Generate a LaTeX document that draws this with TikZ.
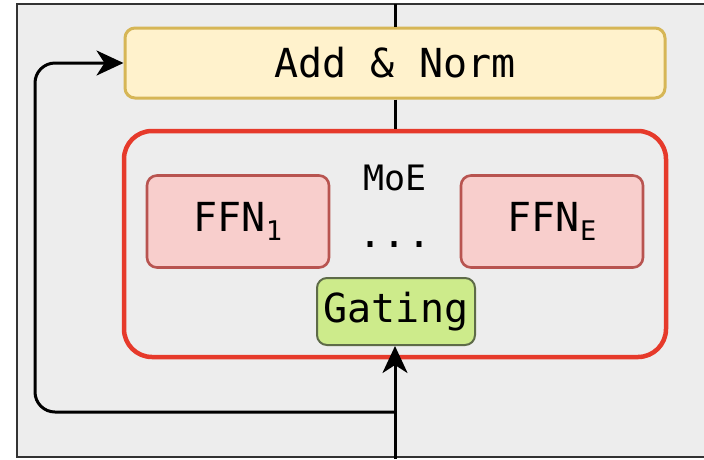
\documentclass[tikz,border=0pt]{standalone}
\usepackage{fontspec}
\setmonofont{DejaVu Sans Mono}
\usetikzlibrary{arrows.meta}
\definecolor{panelgray}{HTML}{EDEDED}
\definecolor{normfill}{HTML}{FFF2CC}
\definecolor{normline}{HTML}{D6B656}
\definecolor{ffnfill}{HTML}{F8CECC}
\definecolor{ffnline}{HTML}{B85450}
\definecolor{gatefill}{HTML}{CDEB8B}
\definecolor{gateline}{HTML}{5E6B48}
\definecolor{moeline}{HTML}{E63A2B}
\newcommand\expsub[1]{\raisebox{-9pt}{\fontsize{27}{27}\selectfont #1}}
\tikzset{
  block/.style={rounded corners=10pt, inner sep=0pt, font=\ttfamily\fontsize{40}{44}\selectfont},
  normbox/.style={block, fill=normfill, draw=normline, line width=3pt},
  ffnbox/.style={block, fill=ffnfill, draw=ffnline, line width=2.6pt, minimum width=182pt, minimum height=92pt},
  gatebox/.style={block, fill=gatefill, draw=gateline, line width=2pt},
  moebox/.style={draw=moeline, line width=4.5pt, rounded corners=28pt, inner sep=0pt},
  link/.style={line width=3pt, draw=black},
  headtip/.style={-{Stealth[length=27pt,width=25pt,inset=8pt]}}
}
\begin{document}
\begin{tikzpicture}[x=1pt, y=-1pt]
\useasboundingbox (0,0) rectangle (704,459);

%% panel
\fill[panelgray] (17,4) rectangle (712,457);
\draw[line width=2pt, black!80] (712,4) -- (17,4) -- (17,457) -- (712,457);

%% blocks
\node[normbox, minimum width=540pt, minimum height=70pt] (norm) at (395,63) {Add \& Norm};
\node[moebox, minimum width=542pt, minimum height=226pt] (moe) at (395,244) {};
\node[font=\ttfamily\fontsize{35}{38}\selectfont] (moelabel) at (395,178) {MoE};
\node[ffnbox] (ffn1) at (238,221.5) {FFN\expsub{1}};
\node[ffnbox] (ffnE) at (552,221.5) {FFN\expsub{E}};
\node[font=\ttfamily\fontsize{40}{44}\selectfont] (dots) at (395,245) {...};
\node[gatebox, minimum width=158pt, minimum height=67pt] (gate) at (396,311.5) {Gating};

%% wires
\coordinate (top) at (395,4);
\coordinate (in) at (395,459);
\coordinate (split) at (395,412);
\coordinate (skip) at (35,412);

\draw[link] (top) -- (top |- norm.north);
\draw[link] (top |- norm.south) -- (top |- moe.north);
\draw[link, headtip] (in) -- (top |- gate.south);
\draw[link, headtip, rounded corners=20pt] (split) -- (skip) |- (norm.west);

\end{tikzpicture}
\end{document}
